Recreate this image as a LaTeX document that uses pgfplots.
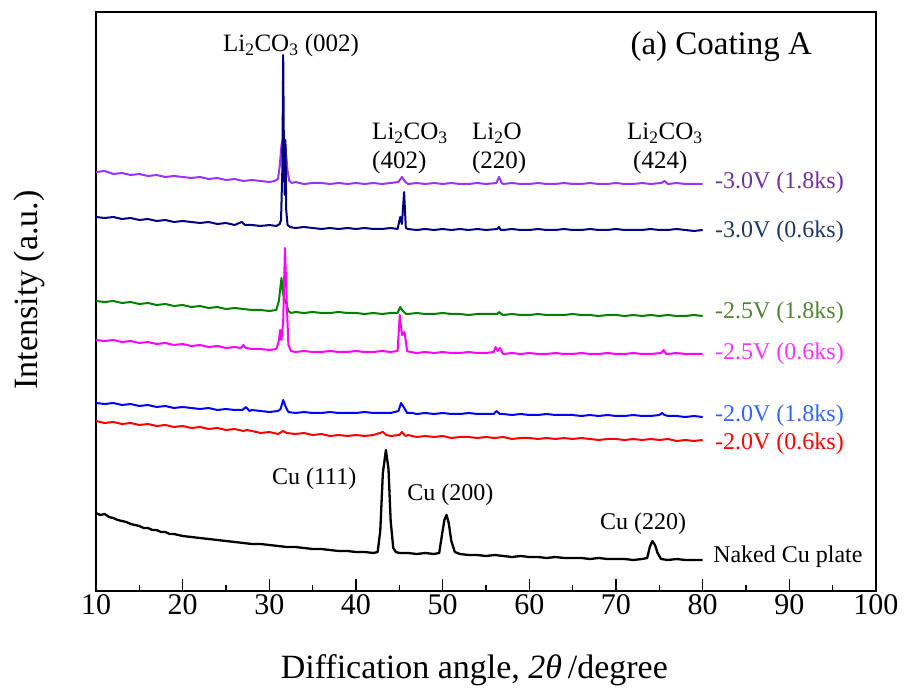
\documentclass[border=0pt]{standalone}
\usepackage{fontspec}
\setmainfont{Liberation Serif}
\usepackage{pgfplots}
\pgfplotsset{compat=1.18}

\definecolor{cPurple}{RGB}{153,51,255}
\definecolor{tPurple}{RGB}{112,48,160}
\definecolor{cNavy}{RGB}{0,0,128}
\definecolor{tNavy}{RGB}{31,56,100}
\definecolor{cGreen}{RGB}{0,128,0}
\definecolor{tGreen}{RGB}{84,130,53}
\definecolor{cPink}{RGB}{255,0,255}
\definecolor{tPink}{RGB}{255,51,255}
\definecolor{cBlue}{RGB}{0,0,255}
\definecolor{tBlue}{RGB}{51,102,255}
\definecolor{cRed}{RGB}{255,0,0}

\newcommand{\fs}[1]{\fontsize{#1bp}{#1bp}\selectfont}

\begin{document}
\begin{tikzpicture}
\path[use as bounding box] (0,0) rectangle (907bp,691bp);
\begin{axis}[
  at={(96bp,100bp)}, anchor=south west,
  width=780bp, height=579bp, scale only axis,
  xmin=10, xmax=100, ymin=0, ymax=579,
  xtick={10,20,...,100}, minor x tick num=1,
  ytick=\empty,
  tick align=inside, xtick pos=bottom,
  major tick length=12bp, minor tick length=6bp,
  axis line style={line width=1.4bp},
  every tick/.style={black, line width=1.2bp},
  /pgf/number format/assume math mode=true,
  xticklabel style={font=\fs{30}},
  xlabel={Diffication angle, \textit{2θ}\,/degree},
  ylabel={Intensity (a.u.)},
  xlabel style={font=\fs{34}, at={(axis description cs:0.485,-0.136)}, anchor=center},
  ylabel style={font=\fs{34}, at={(axis description cs:-0.085,0.52)}, anchor=center},
  every axis plot/.append style={line join=round, mark=none},
]

% -3.0 V, 1.8 ks
\addplot[cPurple, line width=2bp] coordinates {
(10,419)(11,420)(12,417)(13,418)(14,416)(15,417)(16,415)(17,416)(18,414)(19,415)
(20,414)(21,413)(22,414)(23,412)(24,413)(25,411)(26,412)(27,410)(28,411)(29,410)
(30,409)(30.6,410)(31.0,412)(31.2,425)(31.4,446)(31.6,454)(31.8,446)(31.9,441)(32.1,420)(32.3,410)
(32.6,408)(33,409)(34,407)(35,408)(36,408)(37,407)(38,408)(39,407)(40,408)(41,407)
(42,408)(43,407)(44,408)(44.9,409)(45.3,414)(45.7,409)(46,407)(47,408)(48,407)(49,408)
(50,407)(51,408)(52,407)(53,407)(54,408)(55,407)(56.2,408)(56.5,414)(56.8,408)(57,407)
(58,408)(59,407)(60,407)(61,408)(62,407)(63,407)(64,408)(65,407)(66,407)(67,408)
(68,407)(69,407)(70,408)(71,407)(72,407)(73,408)(74,407)(75.2,408)(75.6,410)(76,407)
(77,408)(78,407)(79,407)(80,407)};

% -3.0 V, 0.6 ks
\addplot[cNavy, line width=2bp] coordinates {
(10,374)(11,373)(12,374)(13,372)(14,373)(15,371)(16,372)(17,370)(18,371)(19,369)
(20,370)(21,369)(22,368)(23,369)(24,367)(25,368)(26,366)(26.8,369)(27.2,366)(28,366)
(29,365)(30,366)(30.8,365)(31.2,367)(31.35,371)(31.5,421)(31.6,536)(31.68,441)(31.78,396)(31.86,451)
(31.95,381)(32.1,366)(32.4,364)(33,363)(34,364)(35,363)(36,362)(37,363)(38,362)(39,363)
(40,362)(41,363)(42,362)(43,362)(44,363)(44.8,362)(45.1,374)(45.3,367)(45.55,399)(45.75,363)
(46,362)(47,361)(48,362)(49,361)(50,362)(51,361)(52,362)(53,361)(54,362)(55,361)
(56.3,362)(56.5,364)(56.7,361)(57,361)(58,362)(59,361)(60,361)(61,362)(62,361)(63,361)
(64,362)(65,361)(66,361)(67,362)(68,361)(69,361)(70,362)(71,361)(72,361)(73,361)
(74,362)(75,361)(76,361)(77,362)(78,361)(79,360)(80,361)};

% -2.5 V, 1.8 ks
\addplot[cGreen, line width=2bp] coordinates {
(10,290)(11,289)(12,290)(13,288)(14,289)(15,287)(16,288)(17,286)(18,287)(19,285)
(20,286)(21,284)(22,285)(23,283)(24,284)(25,282)(26,283)(27,282)(28,281)(29,281)
(30,280)(30.8,281)(31.1,290)(31.4,313)(31.55,300)(31.7,292)(31.85,291)(32.0,286)(32.2,280)(32.5,278)
(33,279)(34,278)(35,279)(36,278)(37,278)(38,279)(39,278)(40,278)(41,277)(42,278)
(43,277)(44,278)(44.8,278)(45.1,284)(45.4,280)(45.8,277)(46,277)(47,278)(48,277)(49,277)
(50,278)(51,277)(52,277)(53,276)(54,277)(55,277)(56.3,277)(56.5,279)(56.8,277)(57,276)
(58,277)(59,276)(60,276)(61,277)(62,276)(63,276)(64,276)(65,277)(66,276)(67,276)
(68,275)(69,276)(70,276)(71,275)(72,276)(73,275)(74,276)(75,275)(76,276)(77,275)
(78,275)(79,276)(80,275)};

% -2.5 V, 0.6 ks
\addplot[cPink, line width=2bp] coordinates {
(10,251)(11,250)(12,251)(13,249)(14,250)(15,248)(16,249)(17,247)(18,248)(19,246)
(20,247)(21,245)(22,246)(23,244)(24,245)(25,243)(26,244)(26.7,243)(27.0,246)(27.3,243)
(28,242)(29,242)(30,241)(30.8,242)(31.1,250)(31.25,261)(31.4,251)(31.6,270)(31.8,343)(32.0,291)
(32.2,246)(32.5,240)(33,239)(34,240)(35,239)(36,239)(37,240)(38,239)(39,239)(40,240)
(41,239)(42,239)(43,240)(44,239)(44.8,240)(45.05,276)(45.3,256)(45.6,259)(45.9,240)(46.3,239)
(47,238)(48,239)(49,238)(50,239)(51,238)(52,238)(53,239)(54,238)(55,238)(55.9,239)
(56.1,244)(56.35,240)(56.6,243)(56.9,238)(57,237)(58,238)(59,237)(60,238)(61,237)(62,237)
(63,238)(64,237)(65,237)(66,238)(67,237)(68,237)(69,238)(70,237)(71,237)(72,238)
(73,237)(74,237)(75.2,238)(75.5,241)(75.8,237)(76,237)(77,238)(78,237)(79,237)(80,237)};

% -2.0 V, 1.8 ks
\addplot[cBlue, line width=2bp] coordinates {
(10,188)(11,187)(12,188)(13,186)(14,187)(15,185)(16,186)(17,184)(18,185)(19,183)
(20,184)(21,183)(22,182)(23,183)(24,181)(25,182)(26,181)(26.9,181)(27.3,184)(27.7,180)
(28,181)(29,180)(30,179)(31,180)(31.3,182)(31.6,191)(31.9,184)(32.2,179)(33,178)(34,179)
(35,178)(36,178)(37,179)(38,178)(39,178)(40,178)(41,179)(42,178)(43,178)(44,178)
(44.9,180)(45.2,188)(45.5,184)(45.9,178)(46.5,178)(47,177)(48,178)(49,177)(50,178)(51,177)
(52,177)(53,178)(54,177)(55,177)(55.9,177)(56.2,180)(56.6,177)(57,177)(58,176)(59,177)
(60,176)(61,176)(62,177)(63,176)(64,176)(65,176)(66,175)(67,176)(68,175)(69,176)
(70,175)(71,175)(72,176)(73,175)(74,175)(75,176)(75.3,178)(75.6,176)(76,175)(77,175)
(78,174)(79,175)(80,174)};

% -2.0 V, 0.6 ks
\addplot[cRed, line width=2bp] coordinates {
(10,170)(11,168)(12,169)(13,167)(14,168)(15,166)(16,167)(17,165)(18,166)(19,164)
(20,165)(21,163)(22,164)(23,162)(24,163)(25,161)(26,162)(27,160)(27.4,161)(28,160)
(29,158)(30,159)(31,157)(31.6,160)(32,158)(33,157)(34,158)(35,156)(36,157)(37,155)
(38,156)(39,155)(40,156)(41,155)(42,156)(43.1,159)(43.5,156)(44,155)(45,156)(45.3,159)
(45.7,155)(46,156)(47,154)(48,155)(49,154)(50,155)(51,153)(52,154)(53,154)(54,153)
(55,154)(56,153)(57,154)(58,152)(59,153)(60,153)(61,152)(62,153)(63,152)(64,153)
(65,152)(66,153)(67,152)(68,151)(69,152)(70,152)(71,151)(72,152)(73,151)(74,152)
(75,151)(76,152)(77,150)(78,151)(79,150)(80,151)};

% Naked Cu plate
\addplot[black, line width=2.3bp] coordinates {
(10,78)(10.5,76)(11,77)(11.5,74)(12,73)(12.5,71)(13,70)(13.5,69)(14,67)(14.5,66)
(15,65)(15.5,63)(16,63)(16.5,61)(17,61)(17.5,59)(18,59)(18.5,57)(19,57)(20,55)
(21,54)(22,53)(23,52)(24,51)(25,50)(26,49)(27,48)(28,47)(29,47)(30,46)
(31,45)(32,44)(33,44)(34,43)(35,42)(36,42)(37,41)(38,40)(39,40)(40,39)
(41,39)(42,38)(42.5,39)(42.8,60)(43.1,118)(43.45,141)(43.75,122)(44.0,70)(44.3,43)(44.6,39)
(45,38)(46,38)(47,37)(48,38)(49,37)(49.6,38)(49.9,55)(50.2,71)(50.45,76)(50.7,68)
(51.0,50)(51.4,39)(52,37)(53,36)(54,36)(55,35)(56,36)(57,35)(58,34)(59,35)
(60,34)(61,34)(62,33)(63,34)(64,33)(65,33)(66,33)(67,32)(68,33)(69,32)
(70,32)(71,32)(72,31)(73,32)(73.6,33)(73.9,44)(74.2,50)(74.5,46)(74.8,38)(75.2,32)
(76,31)(77,32)(78,31)(79,31)(80,31)};

% peak assignments
\node[anchor=base, font=\fs{25}] at (axis cs:32.5,539) {Li\textsubscript{2}CO\textsubscript{3} (002)};
\node[anchor=base west, font=\fs{33}] at (axis cs:71.27,536) {(a) Coating A};
\node[anchor=base west, font=\fs{25}, inner sep=0pt] at (axis cs:41.85,451) {Li\textsubscript{2}CO\textsubscript{3}};
\node[anchor=base west, font=\fs{25}, inner sep=0pt] at (axis cs:41.85,422) {(402)};
\node[anchor=base west, font=\fs{25}, inner sep=0pt] at (axis cs:53.38,451) {Li\textsubscript{2}O};
\node[anchor=base west, font=\fs{25}, inner sep=0pt] at (axis cs:53.38,422) {(220)};
\node[anchor=base west, font=\fs{25}, inner sep=0pt] at (axis cs:71.27,451) {Li\textsubscript{2}CO\textsubscript{3}};
\node[anchor=base west, font=\fs{25}, inner sep=0pt] at (axis cs:71.96,422) {(424)};
\node[anchor=base west, font=\fs{24}, inner sep=0pt] at (axis cs:30.3,106) {Cu (111)};
\node[anchor=base west, font=\fs{24}, inner sep=0pt] at (axis cs:45.9,90) {Cu (200)};
\node[anchor=base west, font=\fs{24}, inner sep=0pt] at (axis cs:68.15,61) {Cu (220)};

% sample labels
\node[anchor=west, font=\fs{24}, inner sep=0pt, text=tPurple] at (axis cs:81.42,408) {-3.0V (1.8ks)};
\node[anchor=west, font=\fs{24}, inner sep=0pt, text=tNavy] at (axis cs:81.42,359) {-3.0V (0.6ks)};
\node[anchor=west, font=\fs{24}, inner sep=0pt, text=tGreen] at (axis cs:81.42,278) {-2.5V (1.8ks)};
\node[anchor=west, font=\fs{24}, inner sep=0pt, text=tPink] at (axis cs:81.42,237) {-2.5V (0.6ks)};
\node[anchor=west, font=\fs{24}, inner sep=0pt, text=tBlue] at (axis cs:81.42,175) {-2.0V (1.8ks)};
\node[anchor=west, font=\fs{24}, inner sep=0pt, text=cRed] at (axis cs:81.42,147) {-2.0V (0.6ks)};
\node[anchor=west, font=\fs{24}, inner sep=0pt] at (axis cs:81.2,34) {Naked Cu plate};
\end{axis}
\end{tikzpicture}
\end{document}
